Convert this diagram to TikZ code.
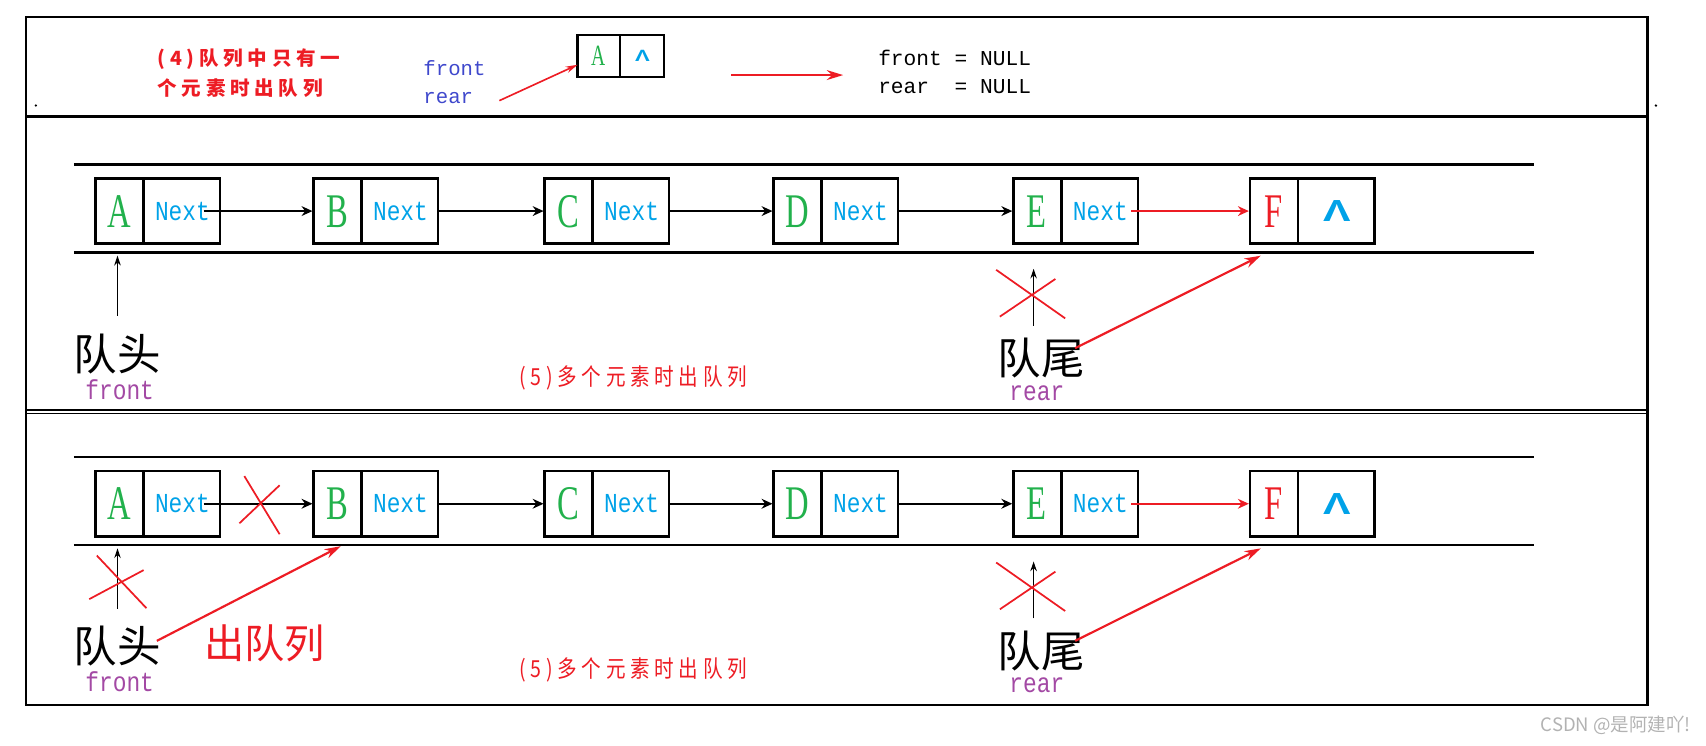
\documentclass[tikz,border=0pt]{standalone}
\usepackage{fontspec}
\usepackage{graphicx}
\setmainfont{Liberation Serif}
\setsansfont{Liberation Sans}
\setmonofont{Liberation Mono}
\newfontfamily\cjk{Noto Sans CJK SC}
\newfontfamily\cjkwide[LetterSpace=24]{Noto Sans CJK SC}
\usetikzlibrary{arrows.meta,positioning,shapes.multipart}

\definecolor{mRed}{RGB}{237,28,36}
\definecolor{mGreen}{RGB}{34,177,76}
\definecolor{mCyan}{RGB}{0,162,232}
\definecolor{mPurple}{RGB}{163,73,164}
\definecolor{mBlue}{RGB}{63,72,204}

% the picture uses narrow, tall letters
\newcommand{\tall}[2][1.2]{\scalebox{1}[#1]{#2}}
\newcommand{\datum}[2][mGreen]{\makebox[43pt]{\rule[-15.3pt]{0pt}{60pt}\textcolor{#1}{\fontsize{30}{30}\selectfont\tall[1.48]{#2}}}}
\newcommand{\nextfield}{\makebox[69pt]{\textcolor{mCyan}{\ttfamily\fontsize{21}{21}\selectfont\tall{Next}}}}
\newcommand{\nullfield}[1][28]{\textcolor{mCyan}{\sffamily\bfseries\fontsize{#1}{#1}\selectfont\scalebox{1.35}[1]{Λ}}}

\begin{document}
\begin{tikzpicture}[x=1pt,y=-1pt,>={Stealth[length=10pt,width=9pt]},
    lnode/.style={rectangle split,rectangle split horizontal,rectangle split parts=2,draw,line width=2.4pt,inner sep=0pt,outer sep=0pt},
    link/.style={->,line width=2.2pt,shorten >=1pt},
    rail/.style={line width=2.4pt},
    ptr/.style={-{Stealth[length=9pt,width=6pt]},line width=1pt},
    redptr/.style={-{Stealth[length=15pt,width=9pt]},mRed,line width=2pt},
    xmark/.style={mRed,line width=1.6pt},
    qlabel/.style={inner sep=0pt,font=\cjk\fontsize{40}{40}\selectfont},
    tag/.style={inner sep=0pt,text=mPurple,font=\ttfamily\fontsize{21}{21}\selectfont},
    note/.style={inner sep=0pt,text=mRed,font=\cjkwide\fontsize{18}{18}\selectfont},
    code/.style={anchor=base west,inner sep=0pt,font=\ttfamily\fontsize{19.5}{19.5}\selectfont}]

    \useasboundingbox (0,0) rectangle (1568,685);

    % frame
    \draw[line width=2.5pt] (24,15.5) rectangle (1514.5,648);
    \draw[line width=3.5pt] (24,107) -- (1514.5,107);
    \draw[line width=2pt] (24,376.5) -- (1514.5,376.5);
    \draw[line width=1.2pt] (24,380) -- (1514.5,380);
    \fill (33,97) circle (1.2pt) (1522,97) circle (1.2pt);

    % (4) one element left
    \node[note,anchor=base west,font=\cjkwide\bfseries\fontsize{18}{18}\selectfont] (t4a) at (144.6,60.5) {(4)队列中只有一};
    \node[note,anchor=base west,font=\cjkwide\bfseries\fontsize{18}{18}\selectfont] (t4b) at (144.6,88) {个元素时出队列};
    \node[code,text=mBlue,font=\ttfamily\fontsize{19}{19}\selectfont] (tfront) at (389,69.5) {front};
    \node[code,text=mBlue,font=\ttfamily\fontsize{19}{19}\selectfont] (trear) at (389,95.5) {rear};
    \node[lnode,line width=2.2pt] (tA) at (570.5,51.5) {\makebox[38pt]{\rule[-10.5pt]{0pt}{39pt}\textcolor{mGreen}{\fontsize{18}{18}\selectfont\tall[1.5]{A}}}\nodepart{two}\makebox[39pt]{\nullfield[15]}};
    \node[code] (tnull1) at (807,60) {front = NULL};
    \node[code] (tnull2) at (807,86) {rear\ \ = NULL};
    \coordinate (tgo) at (672,69);

    \draw[redptr,line width=1.5pt,-{Stealth[length=11pt,width=6pt]}] ([xshift=24pt,yshift=-2pt]trear.east) -- ([yshift=-8pt]tA.west);
    \draw[redptr,line width=2.5pt,shorten >=32pt] (tgo) -- (tgo -| tnull1.west);

    % (5) several elements, before and after
    \foreach \p/\dy in {m/0,b/269}{
    \begin{scope}[shift={(0,\dy)}]
        \draw[rail] (68,151) -- (1410,151);
        \draw[rail] (68,232) -- (1410,232);

        \node[lnode] (\p A) at (145,194) {\datum{A}\nodepart{two}\nextfield};
        \node[lnode,right=86pt of \p A] (\p B) {\datum{B}\nodepart{two}\nextfield};
        \node[lnode,right=98pt of \p B] (\p C) {\datum{C}\nodepart{two}\nextfield};
        \node[lnode,right=96pt of \p C] (\p D) {\datum{D}\nodepart{two}\nextfield};
        \node[lnode,right=106pt of \p D] (\p E) {\datum{E}\nodepart{two}\nextfield};
        \node[lnode,right=103pt of \p E] (\p F) {\datum[mRed]{F}\nodepart{two}\makebox[69pt]{\nullfield}};

        \draw[link] ([xshift=-15pt]\p A.east) -- (\p B);
        \draw[link] (\p B.east) -- (\p C);
        \draw[link] (\p C.east) -- (\p D);
        \draw[link] (\p D.east) -- (\p E);
        \draw[link,mRed] ([xshift=-6pt]\p E.east) -- (\p F);

        \node[qlabel] (\p head) at (108,325) {队头};
        \node[tag] (\p front) at (110,358) {\tall{front}};
        \node[qlabel] (\p tail) at (957,329) {队尾};
        \node[tag] (\p rear) at (953,361) {\tall{rear}};
        \node[note] (\p case) at (582,347) {\tall{(5)多个元素时出队列}};

        \coordinate (\p ftip) at (108,235);
        \coordinate (\p rtip) at (950,247);
        \draw[ptr,shorten <=16pt] (\p head.north) -- (\p ftip);
        \draw[ptr,shorten <=11pt] (\p rtip |- \p tail.north) -- (\p rtip);
        \draw[xmark] (915.6,248) -- (979,292.6) (970,256.4) -- (919,291);
        \draw[redptr] ([xshift=-9pt,yshift=9pt]\p tail.east) -- ([xshift=10pt,yshift=-11pt]\p F.south west);
    \end{scope}
    }

    % the head moves on to B
    \draw[xmark] (224.6,437.6) -- (257,491) (257,446) -- (220,481);
    \draw[xmark] (89,510.6) -- (134.6,559) (132,524) -- (82,550.7);
    \draw[redptr] ([xshift=-4pt,yshift=5pt]bhead.east) -- ([xshift=25pt,yshift=-9pt]bB.south west);
    \node[inner sep=0pt,text=mRed,font=\cjk\fontsize{37}{37}\selectfont] (bout) at (243,591.5) {出队列};

    \node[inner sep=0pt,text=gray!60,font=\cjk\fontsize{17}{17}\selectfont] (mark) at (1485,667) {CSDN @是阿建吖!};
\end{tikzpicture}
\end{document}
